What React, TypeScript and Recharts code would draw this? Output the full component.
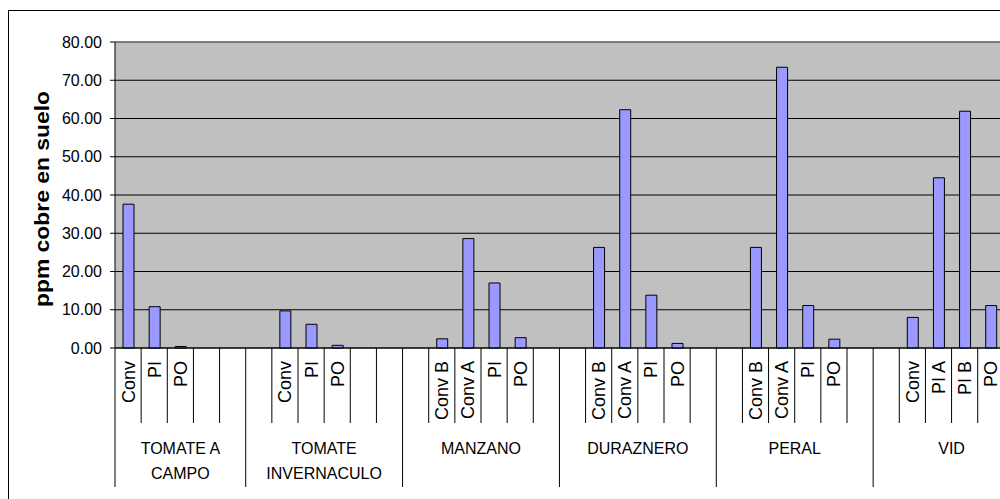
import { BarChart, Bar, XAxis, YAxis, CartesianGrid, ReferenceLine } from "recharts";

// Cultivos (grupos) y cantidad de posiciones que ocupa cada uno en el eje
const groupNames = [
  ["TOMATE A", "CAMPO"],
  ["TOMATE", "INVERNACULO"],
  ["MANZANO"],
  ["DURAZNERO"],
  ["PERAL"],
  ["VID"],
];
const groupSizes = [5, 6, 6, 6, 6, 6];

// Manejo (sub-categoría) por posición, vacío = hueco
const subLabels = [
  "Conv", "PI", "PO", "", "",
  "", "Conv", "PI", "PO", "", "",
  "", "Conv B", "Conv A", "PI", "PO", "",
  "", "Conv B", "Conv A", "PI", "PO", "",
  "", "Conv B", "Conv A", "PI", "PO", "",
  "", "Conv", "PI A", "PI B", "PO", "",
];

// ppm de cobre en suelo
const cobre = [
  37.6, 10.8, 0.4, null, null,
  null, 9.7, 6.2, 0.7, null, null,
  null, 2.4, 28.6, 17.0, 2.7, null,
  null, 26.3, 62.3, 13.8, 1.2, null,
  null, 26.3, 73.4, 11.1, 2.3, null,
  null, 8.0, 44.5, 61.9, 11.1, null,
];

const yTicks = [0, 10, 20, 30, 40, 50, 60, 70, 80];

const FONT = "'Liberation Sans', Arial, sans-serif";
const CHART_W = 1060;
const CHART_H = 499;
const MARGIN = { top: 42, right: 30, left: 0, bottom: 0 };
const YAXIS_W = 115;
const XAXIS_H = 151;
const AXIS_Y = CHART_H - MARGIN.bottom - XAXIS_H;
const SLOT = (CHART_W - MARGIN.left - MARGIN.right - YAXIS_W) / subLabels.length;
const SUB_TOP = 361;
const SUB_LINE_END = 423;
const GROUP_LINE_END = 487;

// una fila por posición del eje, marcando dónde arranca cada grupo
const groupStarts: number[] = [];
groupSizes.reduce((acc, n) => {
  groupStarts.push(acc);
  return acc + n;
}, 0);

const rows = subLabels.map((sub, i) => {
  const g = groupStarts.indexOf(i);
  return {
    key: `c${i}`,
    sub,
    value: cobre[i],
    group: g,
  };
});

function CategoryTick(props: any) {
  const { x, payload } = props;
  const row = rows[payload.index];
  if (!row) return null;
  const left = x - SLOT / 2;
  const isStart = row.group >= 0;
  return (
    <g>
      <line
        x1={left}
        x2={left}
        y1={AXIS_Y}
        y2={isStart ? GROUP_LINE_END : SUB_LINE_END}
        stroke="#000"
        strokeWidth={1}
      />
      {row.sub && (
        <text
          x={x}
          y={SUB_TOP}
          dy="0.36em"
          textAnchor="end"
          transform={`rotate(-90 ${x} ${SUB_TOP})`}
          fontSize={18}
          fontFamily={FONT}
          fill="#000"
        >
          {row.sub}
        </text>
      )}
      {isStart &&
        groupNames[row.group].map((line, j) => (
          <text
            key={j}
            x={left + (groupSizes[row.group] * SLOT) / 2}
            y={454 + j * 25}
            textAnchor="middle"
            fontSize={16}
            fontFamily={FONT}
            fill="#000"
          >
            {line}
          </text>
        ))}
    </g>
  );
}

function AxisTitle() {
  return (
    <text
      x={49}
      y={199}
      transform="rotate(-90 49 199)"
      textAnchor="middle"
      fontSize={21}
      fontWeight="bold"
      fontFamily={FONT}
      fill="#000"
      textLength={216}
      lengthAdjust="spacingAndGlyphs"
    >
      ppm cobre en suelo
    </text>
  );
}

export default function App() {
  return (
    <div
      style={{
        position: "fixed",
        left: 0,
        top: 0,
        width: 1000,
        height: 499,
        overflow: "hidden",
        background: "#fff",
        fontFamily: FONT,
      }}
    >
      <div
        style={{
          position: "absolute",
          left: 8,
          top: 10,
          width: 1100,
          height: 600,
          border: "1px solid #000",
        }}
      />
      <div style={{ position: "absolute", left: 0, top: 0 }}>
        <BarChart width={CHART_W} height={CHART_H} data={rows} margin={MARGIN}>
          <CartesianGrid vertical={false} stroke="#000" fill="#C0C0C0" fillOpacity={1} />
          <ReferenceLine y={80} stroke="#808080" strokeWidth={1.5} />
          <XAxis
            dataKey="key"
            height={XAXIS_H}
            interval={0}
            tickLine={false}
            axisLine={{ stroke: "#000" }}
            tick={<CategoryTick />}
          />
          <YAxis
            width={YAXIS_W}
            domain={[0, 80]}
            ticks={yTicks}
            interval={0}
            tickSize={5}
            tickMargin={8}
            tickFormatter={(v: number) => v.toFixed(2)}
            axisLine={{ stroke: "#000" }}
            tickLine={{ stroke: "#000" }}
            tick={{ fill: "#000", fontSize: 16, fontFamily: FONT }}
            label={<AxisTitle />}
          />
          <Bar
            dataKey="value"
            barSize={11}
            fill="#9999FF"
            stroke="#000"
            strokeWidth={1}
            isAnimationActive={false}
          />
        </BarChart>
      </div>
    </div>
  );
}
